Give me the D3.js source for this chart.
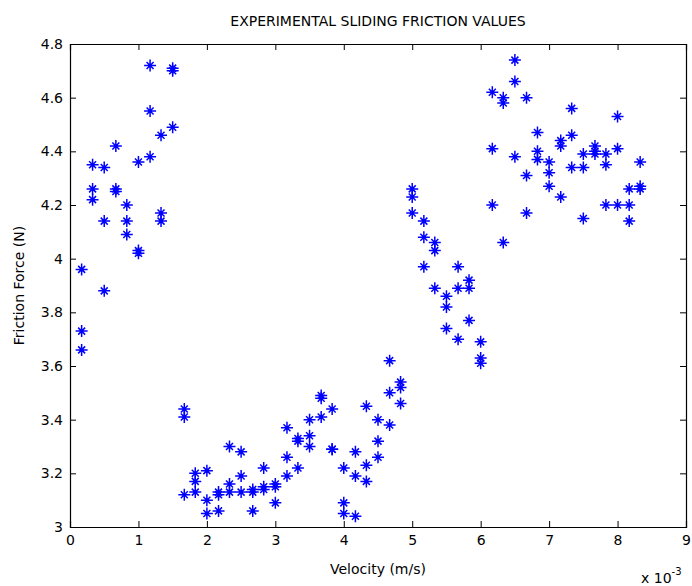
<!DOCTYPE html>
<html>
<head>
<meta charset="utf-8">
<script src="https://cdn.jsdelivr.net/npm/d3@7"></script>
<style>
	body { margin: 0; background: #fff; }
	svg { display: block; }
	text { font-family: "DejaVu Sans", "Liberation Sans", sans-serif; fill: #000; }
</style>
</head>
<body>
<svg></svg>
<script>
// data (velocity in 10^-3 m/s, three readings per velocity)..................

var velocity = [0.17, 0.33, 0.5, 0.67, 0.83, 1, 1.17, 1.33, 1.5, 1.67,
	1.83, 2, 2.17, 2.33, 2.5, 2.67, 2.83, 3, 3.17, 3.33,
	3.5, 3.67, 3.83, 4, 4.17, 4.33, 4.5, 4.67, 4.83, 5,
	5.17, 5.33, 5.5, 5.67, 5.83, 6, 6.17, 6.33, 6.5, 6.67,
	6.83, 7, 7.17, 7.33, 7.5, 7.67, 7.83, 8, 8.17, 8.33];

var forceRun1 = [3.96, 4.35, 4.34, 4.42, 4.20, 4.36, 4.72, 4.46, 4.71, 3.44,
	3.20, 3.21, 3.13, 3.30, 3.28, 3.14, 3.22, 3.16, 3.37, 3.33,
	3.40, 3.49, 3.44, 3.22, 3.28, 3.45, 3.40, 3.62, 3.54, 4.26,
	4.14, 4.06, 3.86, 3.97, 3.92, 3.69, 4.62, 4.60, 4.74, 4.60,
	4.47, 4.36, 4.44, 4.56, 4.39, 4.42, 4.39, 4.53, 4.26, 4.36];

var forceRun2 = [3.73, 4.26, 4.14, 4.26, 4.14, 4.03, 4.55, 4.17, 4.70, 3.41,
	3.17, 3.10, 3.12, 3.16, 3.19, 3.13, 3.15, 3.15, 3.26, 3.32,
	3.34, 3.48, 3.29, 3.09, 3.19, 3.23, 3.32, 3.50, 3.52, 4.23,
	4.08, 4.03, 3.82, 3.89, 3.89, 3.63, 4.41, 4.58, 4.66, 4.31,
	4.40, 4.32, 4.42, 4.46, 4.34, 4.40, 4.35, 4.41, 4.20, 4.27];

var forceRun3 = [3.66, 4.22, 3.88, 4.25, 4.09, 4.02, 4.38, 4.14, 4.49, 3.12,
	3.13, 3.05, 3.06, 3.13, 3.13, 3.06, 3.14, 3.09, 3.19, 3.22,
	3.30, 3.41, 3.29, 3.05, 3.04, 3.17, 3.26, 3.38, 3.46, 4.17,
	3.97, 3.89, 3.74, 3.70, 3.77, 3.61, 4.20, 4.06, 4.38, 4.17,
	4.37, 4.27, 4.23, 4.34, 4.15, 4.39, 4.20, 4.20, 4.14, 4.26];

var xTicks = [0, 1, 2, 3, 4, 5, 6, 7, 8, 9],
	yTicks = [3, 3.2, 3.4, 3.6, 3.8, 4, 4.2, 4.4, 4.6, 4.8];

// layout.......................................................................

var width = 692, height = 586,
	plotL = 70, plotR = 686, plotT = 44, plotB = 527,
	tickLen = 6;

var svg = d3.select("svg")
	.attr("width", width)
	.attr("height", height);

var x = d3.scaleLinear().domain([0, 9]).range([plotL, plotR]),
	y = d3.scaleLinear().domain([3, 4.8]).range([plotB, plotT]);

var points = [];
[forceRun1, forceRun2, forceRun3].forEach(function(run){
	run.forEach(function(f, i){ points.push([velocity[i], f]); });
});

// axes (matlab style: ticks inside, on all four sides)..........................

svg.append("g")
	.attr("transform", "translate(0," + plotB + ")")
	.call(d3.axisBottom(x).tickValues(xTicks).tickSize(-tickLen)
		.tickPadding(8).tickFormat(d3.format("d")))
	.call(styleAxis);

svg.append("g")
	.attr("transform", "translate(0," + plotT + ")")
	.call(d3.axisTop(x).tickValues(xTicks).tickSize(-tickLen).tickFormat(""))
	.call(styleAxis);

svg.append("g")
	.attr("transform", "translate(" + plotL + ",0)")
	.call(d3.axisLeft(y).tickValues(yTicks).tickSize(-tickLen)
		.tickPadding(7).tickFormat(function(d){ return String(+d.toFixed(1)); }))
	.call(styleAxis);

svg.append("g")
	.attr("transform", "translate(" + plotR + ",0)")
	.call(d3.axisRight(y).tickValues(yTicks).tickSize(-tickLen).tickFormat(""))
	.call(styleAxis);

function styleAxis(g){
	g.select(".domain").attr("stroke", "#000").attr("stroke-width", 1.2);
	g.selectAll(".tick line").attr("stroke", "#000");
	g.selectAll(".tick text")
		.style("font-family", "DejaVu Sans, sans-serif")
		.style("font-size", "14px")
		.attr("fill", "#000");
}

// markers.......................................................................

var star = "M-6,0H6M0,-6V6M-3.5,-3.5L3.5,3.5M-3.5,3.5L3.5,-3.5";

var sites = svg.append("g")
	.attr("class", "sites")
	.selectAll("g")
	.data(points)
	.enter().append("g")
		.attr("transform", function(d){
			return "translate(" + x(d[0]) + "," + y(d[1]) + ")"; });

sites.append("path")
	.attr("d", star)
	.attr("fill", "none")
	.attr("stroke", "#0000ff")
	.attr("stroke-width", 1.5);

sites.append("circle")
	.attr("r", 1.8)
	.attr("fill", "#0000ff");

// labels........................................................................

svg.append("text")
	.attr("x", (plotL + plotR) / 2)
	.attr("y", 26)
	.attr("text-anchor", "middle")
	.style("font-size", "14px")
	.text("EXPERIMENTAL SLIDING FRICTION VALUES");

svg.append("text")
	.attr("x", (plotL + plotR) / 2)
	.attr("y", 574)
	.attr("text-anchor", "middle")
	.style("font-size", "14px")
	.text("Velocity (m/s)");

svg.append("text")
	.attr("transform", "translate(24," + (plotT + plotB) / 2 + ") rotate(-90)")
	.attr("text-anchor", "middle")
	.style("font-size", "14px")
	.text("Friction Force (N)");

var expo = svg.append("text")
	.attr("x", 641)
	.attr("y", 583)
	.style("font-size", "14px");
expo.append("tspan").text("x 10");
expo.append("tspan")
	.attr("dy", -8)
	.style("font-size", "10px")
	.text("-3");
</script>
</body>
</html>
